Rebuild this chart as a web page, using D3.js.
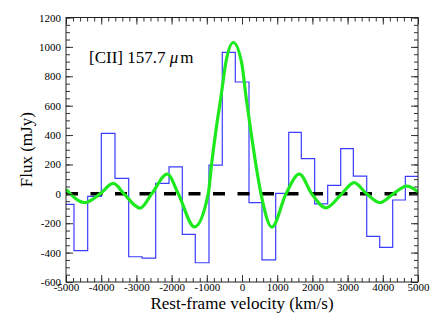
<!DOCTYPE html>
<html>
<head>
<meta charset="utf-8">
<script src="https://cdn.jsdelivr.net/npm/d3@7"></script>
<style>
  body { margin: 0; background: #fff; }
</style>
</head>
<body>
<svg width="436" height="334" style="font-family:'Liberation Serif', 'Times New Roman', serif"></svg>
<script>

// channel edges (km/s) and binned flux (mJy)
var binEdges = [-5000, -4773, -4384, -3997, -3608, -3219, -2841, -2452, -2074, -1696,
  -1327, -938, -560, -190, 199, 568, 957, 1327, 1685, 2064, 2434, 2804, 3163, 3543,
  3912, 4281, 4640, 5000];
var binFlux = [-72, -387, -17, 412, 105, -428, -437, 71, 184, -276, -469, 196, 963,
  761, -60, -450, 3, 418, 239, -69, 58, 307, 121, -289, -364, -42, 119];

// model fit
var fitVel = [-5000, -4460, -4034, -3656, -3352, -2898, -2565, -2122, -1810, -1350,
  -957, -861, -739, -597, -463, -247, -7, 114, 247, 389, 540, 850, 1250, 1628,
  1980, 2386, 2832, 3182, 3543, 3920, 4299, 4679, 5000];
var fitFlux = [31, -60, 0, 71, 0, -97, 0, 135, 0, -225,
  3, 207, 434, 661, 888, 1030, 888, 661, 434, 207, 0, -226, 0, 135,
  0, -95, 0, 76, 0, -60, 0, 53, 14];

var xTicks = d3.range(-5000, 5001, 1000);
var yTicks = d3.range(-600, 1201, 200);

var serif = "'Liberation Serif', 'Times New Roman', serif";

var svg = d3.select("svg"),
  margin = {top: 17.5, right: 18, bottom: 52, left: 66},
  width = +svg.attr("width") - margin.left - margin.right,
  height = +svg.attr("height") - margin.top - margin.bottom;

var x = d3.scaleLinear().domain([-5000, 5000]).range([0, width]);
var y = d3.scaleLinear().domain([-600, 1200]).range([height, 0]);

var g = svg.append("g")
  .attr("transform", "translate(" + margin.left + "," + margin.top + ")");

svg.append("defs").append("clipPath").attr("id", "clip")
  .append("rect").attr("width", width).attr("height", height);

var plot = g.append("g").attr("clip-path", "url(#clip)");

// histogram
var steps = binFlux.map(function(f, i) { return {v: binEdges[i], f: f}; });
steps.push({v: binEdges[binEdges.length - 1], f: binFlux[binFlux.length - 1]});

plot.append("path")
  .datum(steps)
  .attr("fill", "none")
  .attr("stroke", "#3c3cff")
  .attr("stroke-width", 1.2)
  .attr("d", d3.line()
    .x(function(d) { return x(d.v); })
    .y(function(d) { return y(d.f); })
    .curve(d3.curveStepAfter));

// zero level
plot.append("line")
  .attr("x1", x(-5000)).attr("x2", x(5000))
  .attr("y1", y(0)).attr("y2", y(0))
  .attr("stroke", "#000")
  .attr("stroke-width", 3.5)
  .attr("stroke-dasharray", "12,12.5");

// fit
plot.append("path")
  .datum(d3.zip(fitVel, fitFlux))
  .attr("fill", "none")
  .attr("stroke", "#1ee81e")
  .attr("stroke-width", 3.2)
  .attr("d", d3.line()
    .x(function(d) { return x(d[0]); })
    .y(function(d) { return y(d[1]); })
    .curve(d3.curveMonotoneX));

// axes: ticks inside on all four sides
function minor(ax) { return ax.tickSize(-4).tickFormat(""); }

g.append("g").attr("class", "tk")
  .attr("transform", "translate(0," + height + ")")
  .call(minor(d3.axisBottom(x).tickValues(d3.range(-5000, 5001, 200))));
g.append("g").attr("class", "tk")
  .attr("transform", "translate(0," + height + ")")
  .call(d3.axisBottom(x).tickValues(xTicks).tickSize(-7).tickPadding(1)
    .tickFormat(function(d) { return String(d); }));
g.append("g").attr("class", "tk")
  .call(minor(d3.axisTop(x).tickValues(d3.range(-5000, 5001, 200))));
g.append("g").attr("class", "tk")
  .call(d3.axisTop(x).tickValues(xTicks).tickSize(-7).tickFormat(""));

g.append("g").attr("class", "tk")
  .call(minor(d3.axisLeft(y).tickValues(d3.range(-600, 1201, 50))));
g.append("g").attr("class", "tk")
  .call(d3.axisLeft(y).tickValues(yTicks).tickSize(-7).tickPadding(5)
    .tickFormat(function(d) { return String(d); }));
g.append("g").attr("class", "tk")
  .attr("transform", "translate(" + width + ",0)")
  .call(minor(d3.axisRight(y).tickValues(d3.range(-600, 1201, 50))));
g.append("g").attr("class", "tk")
  .attr("transform", "translate(" + width + ",0)")
  .call(d3.axisRight(y).tickValues(yTicks).tickSize(-7).tickFormat(""));

g.selectAll(".tk").attr("font-family", null);
g.selectAll(".tk .domain").remove();
g.selectAll(".tk line").attr("stroke", "#333");
g.selectAll(".tk text")
  .style("font-family", serif)
  .style("font-size", "11px")
  .attr("fill", "#000");

g.append("rect")
  .attr("width", width).attr("height", height)
  .attr("fill", "none").attr("stroke", "#222").attr("stroke-width", 1);

// labels
g.append("text")
  .attr("x", width / 2)
  .attr("y", height + 27)
  .attr("text-anchor", "middle")
  .style("font-family", serif)
  .style("font-size", "17px")
  .text("Rest-frame velocity (km/s)");

svg.append("text")
  .attr("transform", "translate(32," + (margin.top + height / 2) + ") rotate(-90)")
  .attr("text-anchor", "middle")
  .style("font-family", serif)
  .style("font-size", "17px")
  .text("Flux (mJy)");

var lab = g.append("text")
  .attr("x", 23)
  .attr("y", 45)
  .style("font-family", serif)
  .style("font-size", "17px");
lab.append("tspan").text("[CII] 157.7 ");
lab.append("tspan").style("font-style", "italic").text("\u03bc");
lab.append("tspan").attr("dx", 2).text("m");

</script>
</body>
</html>
